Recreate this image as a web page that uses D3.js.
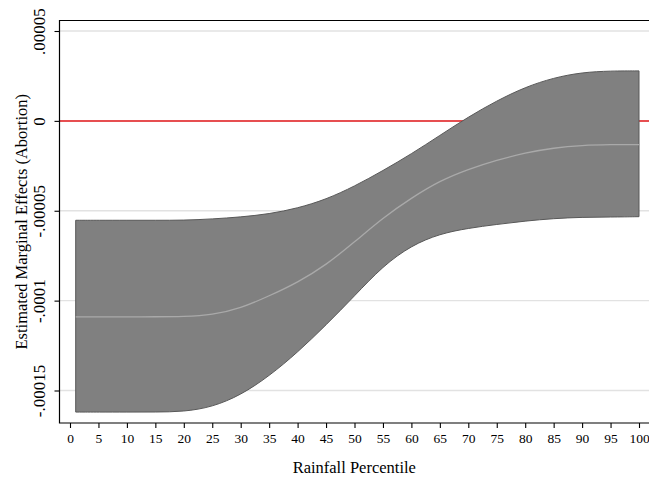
<!DOCTYPE html>
<html>
<head>
<meta charset="utf-8">
<script src="https://cdn.jsdelivr.net/npm/d3@7/dist/d3.min.js"></script>
<style>
  html, body { margin: 0; padding: 0; background: #fff; }
  svg { display: block; }
  text { font-family: "Liberation Serif", "Times New Roman", serif; fill: #000; }
</style>
</head>
<body>
<svg id="chart" width="649" height="478"></svg>
<script>
// Rainfall percentile at which the marginal effect is evaluated
const percentile = [1, 5, 10, 15, 20, 25, 30, 35, 40, 45, 50, 55, 60, 65, 70, 75, 80, 85, 90, 95, 100];

// Estimated marginal effect on abortion and its confidence bounds
const effect = [-10.90e-5, -10.90e-5, -10.90e-5, -10.90e-5, -10.89e-5, -10.80e-5, -10.43e-5, -9.74e-5, -8.99e-5, -8.02e-5,
                -6.74e-5, -5.39e-5, -4.29e-5, -3.33e-5, -2.69e-5, -2.18e-5, -1.78e-5, -1.50e-5, -1.36e-5, -1.32e-5, -1.32e-5];
const upperCI = [-5.53e-5, -5.53e-5, -5.53e-5, -5.53e-5, -5.53e-5, -5.46e-5, -5.35e-5, -5.18e-5, -4.86e-5, -4.37e-5,
                 -3.64e-5, -2.77e-5, -1.84e-5, -0.81e-5, 0.22e-5, 1.12e-5, 1.88e-5, 2.40e-5, 2.70e-5, 2.78e-5, 2.78e-5];
const lowerCI = [-16.20e-5, -16.20e-5, -16.20e-5, -16.20e-5, -16.18e-5, -15.92e-5, -15.26e-5, -14.20e-5, -12.88e-5, -11.36e-5,
                 -9.74e-5, -8.07e-5, -6.93e-5, -6.28e-5, -5.97e-5, -5.76e-5, -5.57e-5, -5.43e-5, -5.36e-5, -5.35e-5, -5.33e-5];

// Axis ticks
const xTicks = d3.range(0, 101, 5);
const yTicks = [0.00005, 0, -0.00005, -0.0001, -0.00015];
const yTickLabels = [".00005", "0", "-.00005", "-.0001", "-.00015"];

const xTitle = "Rainfall Percentile";
const yTitle = "Estimated Marginal Effects (Abortion)";

const svg = d3.select("#chart");

// Plot region
const plotLeft = 59.5, plotRight = 649, plotTop = 20.5, plotBottom = 423;

const x = d3.scaleLinear().domain([0, 100]).range([70, 639]);
const y = d3.scaleLinear().domain([-0.00015, 0.00005]).range([390.5, 31]);

const rows = percentile.map((p, i) => ({ p, m: effect[i], lo: lowerCI[i], hi: upperCI[i] }));

// Horizontal grid lines
svg.append("g")
  .selectAll("line")
  .data(yTicks)
  .join("line")
  .attr("x1", plotLeft).attr("x2", plotRight)
  .attr("y1", d => y(d)).attr("y2", d => y(d))
  .attr("stroke", "#e2e2e2")
  .attr("stroke-width", 1.3);

// Zero reference line
svg.append("line")
  .attr("x1", plotLeft).attr("x2", plotRight)
  .attr("y1", y(0)).attr("y2", y(0))
  .attr("stroke", "#e41a1c")
  .attr("stroke-width", 1.5);

// Confidence band
const area = d3.area()
  .x(d => x(d.p))
  .y0(d => y(d.lo))
  .y1(d => y(d.hi))
  .curve(d3.curveBasis);

svg.append("path")
  .datum(rows)
  .attr("d", area)
  .attr("fill", "#808080")
  .attr("stroke", "#585858")
  .attr("stroke-width", 1);

// Point estimate
const line = d3.line()
  .x(d => x(d.p))
  .y(d => y(d.m))
  .curve(d3.curveBasis);

svg.append("path")
  .datum(rows)
  .attr("d", line)
  .attr("fill", "none")
  .attr("stroke", "#a9a9a9")
  .attr("stroke-width", 1.3);

// Frame
svg.append("path")
  .attr("d", `M${plotRight},${plotTop}H${plotLeft}V${plotBottom}H${plotRight}`)
  .attr("fill", "none")
  .attr("stroke", "#000")
  .attr("stroke-width", 1.2);

// X axis
const xAxis = svg.append("g")
  .attr("transform", `translate(0,${plotBottom})`)
  .call(d3.axisBottom(x).tickValues(xTicks).tickSize(5).tickPadding(5).tickFormat(d3.format("d")));
xAxis.select(".domain").remove();
xAxis.selectAll(".tick line").attr("stroke", "#000").attr("stroke-width", 1.1);
xAxis.selectAll(".tick text")
  .attr("font-family", "Liberation Serif, serif")
  .attr("font-size", 13.5)
  .attr("fill", "#000");

// Y axis
const yAxis = svg.append("g")
  .attr("transform", `translate(${plotLeft},0)`)
  .call(d3.axisLeft(y).tickValues(yTicks).tickSize(5).tickFormat((d, i) => yTickLabels[i]));
yAxis.select(".domain").remove();
yAxis.selectAll(".tick line").attr("stroke", "#000").attr("stroke-width", 1.1);
yAxis.selectAll(".tick text")
  .attr("font-family", "Liberation Serif, serif")
  .attr("font-size", 17)
  .attr("fill", "#000")
  .attr("text-anchor", "middle")
  .attr("dy", null)
  .attr("x", null)
  .attr("transform", "translate(-14.5,0) rotate(-90)");

// Axis titles
svg.append("text")
  .attr("x", (plotLeft + plotRight) / 2)
  .attr("y", 472.5)
  .attr("text-anchor", "middle")
  .attr("font-size", 16.5)
  .text(xTitle);

svg.append("text")
  .attr("transform", `translate(27,${(plotTop + plotBottom) / 2}) rotate(-90)`)
  .attr("text-anchor", "middle")
  .attr("font-size", 16.5)
  .text(yTitle);
</script>
</body>
</html>
